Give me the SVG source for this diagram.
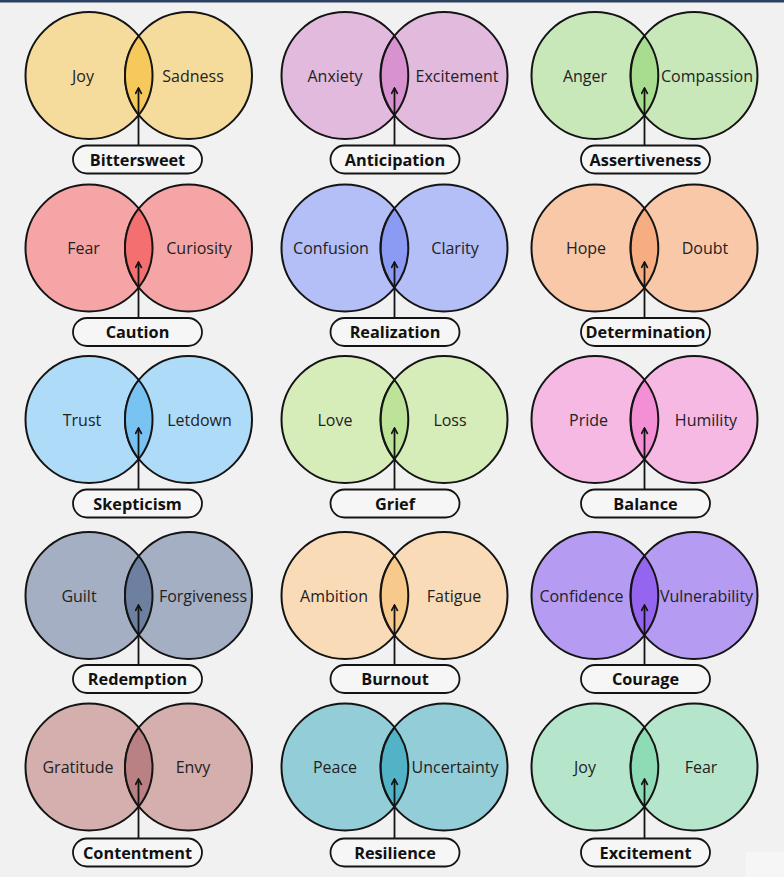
<svg xmlns="http://www.w3.org/2000/svg" width="784" height="877" viewBox="0 0 784 877">
<style>
.c{stroke:#141414;stroke-width:2}
.t{font-family:"Open Sans","Liberation Sans",sans-serif;font-size:16px;fill:#222;text-anchor:middle}
.p{fill:#f6f6f6;stroke:#141414;stroke-width:1.8}
.pt{font-family:"Open Sans","Liberation Sans",sans-serif;font-size:16.3px;font-weight:700;fill:#111;text-anchor:middle}
.a{stroke:#141414;stroke-width:1.8;fill:none}
</style>
<defs>
<marker id="ah" viewBox="0 0 10 10" refX="8.5" refY="5" markerWidth="8" markerHeight="8" markerUnits="userSpaceOnUse" orient="auto">
<path d="M1,1 L8.5,5 L1,9" fill="none" stroke="#141414" stroke-width="2"/>
</marker>
</defs>
<rect width="784" height="877" fill="#f1f1f1"/>
<rect width="784" height="2.5" fill="#2c4060"/>
<rect x="746" y="852" width="38" height="25" fill="#f6f6f6"/>

<!-- Row 1 -->
<g id="venn-bittersweet">
<circle class="c" cx="89" cy="75.5" r="63.5" fill="#f6dc9c"/>
<circle class="c" cx="188.5" cy="75.5" r="63.5" fill="#f6dc9c"/>
<path class="c" d="M138.75,36 A63.5,63.5 0 0 1 138.75,115 A63.5,63.5 0 0 1 138.75,36Z" fill="#f6c95c"/>
<text class="t" x="83" y="81.5">Joy</text>
<text class="t" x="193" y="81.5">Sadness</text>
</g>
<g id="venn-anticipation">
<circle class="c" cx="345" cy="75.5" r="63.5" fill="#e2bade"/>
<circle class="c" cx="444" cy="75.5" r="63.5" fill="#e2bade"/>
<path class="c" d="M394.5,36 A63.5,63.5 0 0 1 394.5,115 A63.5,63.5 0 0 1 394.5,36Z" fill="#d892d0"/>
<text class="t" x="335" y="81.5">Anxiety</text>
<text class="t" x="457" y="81.5">Excitement</text>
</g>
<g id="venn-assertiveness">
<circle class="c" cx="595" cy="75.5" r="63.5" fill="#c8e8b9"/>
<circle class="c" cx="694" cy="75.5" r="63.5" fill="#c8e8b9"/>
<path class="c" d="M644.5,36 A63.5,63.5 0 0 1 644.5,115 A63.5,63.5 0 0 1 644.5,36Z" fill="#a8dc8f"/>
<text class="t" x="585" y="81.5">Anger</text>
<text class="t" x="707" y="81.5">Compassion</text>
</g>

<!-- Row 2 -->
<g id="venn-caution">
<circle class="c" cx="89" cy="248" r="63.5" fill="#f5a5a5"/>
<circle class="c" cx="188.5" cy="248" r="63.5" fill="#f5a5a5"/>
<path class="c" d="M138.75,208.5 A63.5,63.5 0 0 1 138.75,287.5 A63.5,63.5 0 0 1 138.75,208.5Z" fill="#f46f6f"/>
<text class="t" x="83.5" y="254">Fear</text>
<text class="t" x="199" y="254">Curiosity</text>
</g>
<g id="venn-realization">
<circle class="c" cx="345" cy="248" r="63.5" fill="#b4bef7"/>
<circle class="c" cx="444" cy="248" r="63.5" fill="#b4bef7"/>
<path class="c" d="M394.5,208.5 A63.5,63.5 0 0 1 394.5,287.5 A63.5,63.5 0 0 1 394.5,208.5Z" fill="#8b9bf4"/>
<text class="t" x="331" y="254">Confusion</text>
<text class="t" x="455" y="254">Clarity</text>
</g>
<g id="venn-determination">
<circle class="c" cx="595" cy="248" r="63.5" fill="#f8c8a9"/>
<circle class="c" cx="694" cy="248" r="63.5" fill="#f8c8a9"/>
<path class="c" d="M644.5,208.5 A63.5,63.5 0 0 1 644.5,287.5 A63.5,63.5 0 0 1 644.5,208.5Z" fill="#f6ad82"/>
<text class="t" x="586" y="254">Hope</text>
<text class="t" x="705" y="254">Doubt</text>
</g>

<!-- Row 3 -->
<g id="venn-skepticism">
<circle class="c" cx="89" cy="419.5" r="63.5" fill="#aedcf8"/>
<circle class="c" cx="188.5" cy="419.5" r="63.5" fill="#aedcf8"/>
<path class="c" d="M138.75,380 A63.5,63.5 0 0 1 138.75,459 A63.5,63.5 0 0 1 138.75,380Z" fill="#79c3f2"/>
<text class="t" x="82" y="425.5">Trust</text>
<text class="t" x="199.5" y="425.5">Letdown</text>
</g>
<g id="venn-grief">
<circle class="c" cx="345" cy="419.5" r="63.5" fill="#d6ecb9"/>
<circle class="c" cx="444" cy="419.5" r="63.5" fill="#d6ecb9"/>
<path class="c" d="M394.5,380 A63.5,63.5 0 0 1 394.5,459 A63.5,63.5 0 0 1 394.5,380Z" fill="#bde399"/>
<text class="t" x="335" y="425.5">Love</text>
<text class="t" x="450" y="425.5">Loss</text>
</g>
<g id="venn-balance">
<circle class="c" cx="595" cy="419.5" r="63.5" fill="#f6b9e3"/>
<circle class="c" cx="694" cy="419.5" r="63.5" fill="#f6b9e3"/>
<path class="c" d="M644.5,380 A63.5,63.5 0 0 1 644.5,459 A63.5,63.5 0 0 1 644.5,380Z" fill="#f28fd5"/>
<text class="t" x="588.5" y="425.5">Pride</text>
<text class="t" x="706" y="425.5">Humility</text>
</g>

<!-- Row 4 -->
<g id="venn-redemption">
<circle class="c" cx="89" cy="595.5" r="63.5" fill="#a4afc3"/>
<circle class="c" cx="188.5" cy="595.5" r="63.5" fill="#a4afc3"/>
<path class="c" d="M138.75,556 A63.5,63.5 0 0 1 138.75,635 A63.5,63.5 0 0 1 138.75,556Z" fill="#6e809f"/>
<text class="t" x="79" y="601.5">Guilt</text>
<text class="t" x="203" y="601.5">Forgiveness</text>
</g>
<g id="venn-burnout">
<circle class="c" cx="345" cy="595.5" r="63.5" fill="#f9dcb7"/>
<circle class="c" cx="444" cy="595.5" r="63.5" fill="#f9dcb7"/>
<path class="c" d="M394.5,556 A63.5,63.5 0 0 1 394.5,635 A63.5,63.5 0 0 1 394.5,556Z" fill="#f7c98a"/>
<text class="t" x="334" y="601.5">Ambition</text>
<text class="t" x="454" y="601.5">Fatigue</text>
</g>
<g id="venn-courage">
<circle class="c" cx="595" cy="595.5" r="63.5" fill="#b59bf1"/>
<circle class="c" cx="694" cy="595.5" r="63.5" fill="#b59bf1"/>
<path class="c" d="M644.5,556 A63.5,63.5 0 0 1 644.5,635 A63.5,63.5 0 0 1 644.5,556Z" fill="#9565ef"/>
<text class="t" x="581.5" y="601.5">Confidence</text>
<text class="t" x="706.5" y="601.5">Vulnerability</text>
</g>

<!-- Row 5 -->
<g id="venn-contentment">
<circle class="c" cx="89" cy="767" r="63.5" fill="#d4afad"/>
<circle class="c" cx="188.5" cy="767" r="63.5" fill="#d4afad"/>
<path class="c" d="M138.75,727.5 A63.5,63.5 0 0 1 138.75,806.5 A63.5,63.5 0 0 1 138.75,727.5Z" fill="#b98184"/>
<text class="t" x="78" y="773">Gratitude</text>
<text class="t" x="193" y="773">Envy</text>
</g>
<g id="venn-resilience">
<circle class="c" cx="345" cy="767" r="63.5" fill="#93cdd8"/>
<circle class="c" cx="444" cy="767" r="63.5" fill="#93cdd8"/>
<path class="c" d="M394.5,727.5 A63.5,63.5 0 0 1 394.5,806.5 A63.5,63.5 0 0 1 394.5,727.5Z" fill="#53b3c6"/>
<text class="t" x="335" y="773">Peace</text>
<text class="t" x="455" y="773">Uncertainty</text>
</g>
<g id="venn-excitement">
<circle class="c" cx="595" cy="767" r="63.5" fill="#b5e6cc"/>
<circle class="c" cx="694" cy="767" r="63.5" fill="#b5e6cc"/>
<path class="c" d="M644.5,727.5 A63.5,63.5 0 0 1 644.5,806.5 A63.5,63.5 0 0 1 644.5,727.5Z" fill="#8edcb5"/>
<text class="t" x="585" y="773">Joy</text>
<text class="t" x="701" y="773">Fear</text>
</g>

<g id="connectors">
<line class="a" x1="138.5" y1="145.5" x2="138.5" y2="88" marker-end="url(#ah)"/>
<line class="a" x1="394.5" y1="145.5" x2="394.5" y2="88" marker-end="url(#ah)"/>
<line class="a" x1="644.5" y1="145.5" x2="644.5" y2="88" marker-end="url(#ah)"/>
<line class="a" x1="138.5" y1="318" x2="138.5" y2="262" marker-end="url(#ah)"/>
<line class="a" x1="394.5" y1="318" x2="394.5" y2="262" marker-end="url(#ah)"/>
<line class="a" x1="644.5" y1="318" x2="644.5" y2="262" marker-end="url(#ah)"/>
<line class="a" x1="138.5" y1="489.5" x2="138.5" y2="428" marker-end="url(#ah)"/>
<line class="a" x1="394.5" y1="489.5" x2="394.5" y2="428" marker-end="url(#ah)"/>
<line class="a" x1="644.5" y1="489.5" x2="644.5" y2="428" marker-end="url(#ah)"/>
<line class="a" x1="138.5" y1="665" x2="138.5" y2="605" marker-end="url(#ah)"/>
<line class="a" x1="394.5" y1="665" x2="394.5" y2="605" marker-end="url(#ah)"/>
<line class="a" x1="644.5" y1="665" x2="644.5" y2="605" marker-end="url(#ah)"/>
<line class="a" x1="138.5" y1="838.5" x2="138.5" y2="779" marker-end="url(#ah)"/>
<line class="a" x1="394.5" y1="838.5" x2="394.5" y2="779" marker-end="url(#ah)"/>
<line class="a" x1="644.5" y1="838.5" x2="644.5" y2="779" marker-end="url(#ah)"/>
</g>

<g id="label-bittersweet"><rect class="p" x="73" y="145.5" width="129" height="28" rx="14"/><text class="pt" x="137.5" y="165.5">Bittersweet</text></g>
<g id="label-anticipation"><rect class="p" x="330.5" y="145.5" width="129" height="28" rx="14"/><text class="pt" x="395" y="165.5">Anticipation</text></g>
<g id="label-assertiveness"><rect class="p" x="581" y="145.5" width="129" height="28" rx="14"/><text class="pt" x="645.5" y="165.5">Assertiveness</text></g>

<g id="label-caution"><rect class="p" x="73" y="318" width="129" height="28" rx="14"/><text class="pt" x="137.5" y="338">Caution</text></g>
<g id="label-realization"><rect class="p" x="330.5" y="318" width="129" height="28" rx="14"/><text class="pt" x="395" y="338">Realization</text></g>
<g id="label-determination"><rect class="p" x="581" y="318" width="129" height="28" rx="14"/><text class="pt" x="645.5" y="338">Determination</text></g>

<g id="label-skepticism"><rect class="p" x="73" y="489.5" width="129" height="28" rx="14"/><text class="pt" x="137.5" y="509.5">Skepticism</text></g>
<g id="label-grief"><rect class="p" x="330.5" y="489.5" width="129" height="28" rx="14"/><text class="pt" x="395" y="509.5">Grief</text></g>
<g id="label-balance"><rect class="p" x="581" y="489.5" width="129" height="28" rx="14"/><text class="pt" x="645.5" y="509.5">Balance</text></g>

<g id="label-redemption"><rect class="p" x="73" y="665" width="129" height="28" rx="14"/><text class="pt" x="137.5" y="685">Redemption</text></g>
<g id="label-burnout"><rect class="p" x="330.5" y="665" width="129" height="28" rx="14"/><text class="pt" x="395" y="685">Burnout</text></g>
<g id="label-courage"><rect class="p" x="581" y="665" width="129" height="28" rx="14"/><text class="pt" x="645.5" y="685">Courage</text></g>

<g id="label-contentment"><rect class="p" x="73" y="838.5" width="129" height="28" rx="14"/><text class="pt" x="137.5" y="858.5">Contentment</text></g>
<g id="label-resilience"><rect class="p" x="330.5" y="838.5" width="129" height="28" rx="14"/><text class="pt" x="395" y="858.5">Resilience</text></g>
<g id="label-excitement"><rect class="p" x="581" y="838.5" width="129" height="28" rx="14"/><text class="pt" x="645.5" y="858.5">Excitement</text></g>
</svg>
